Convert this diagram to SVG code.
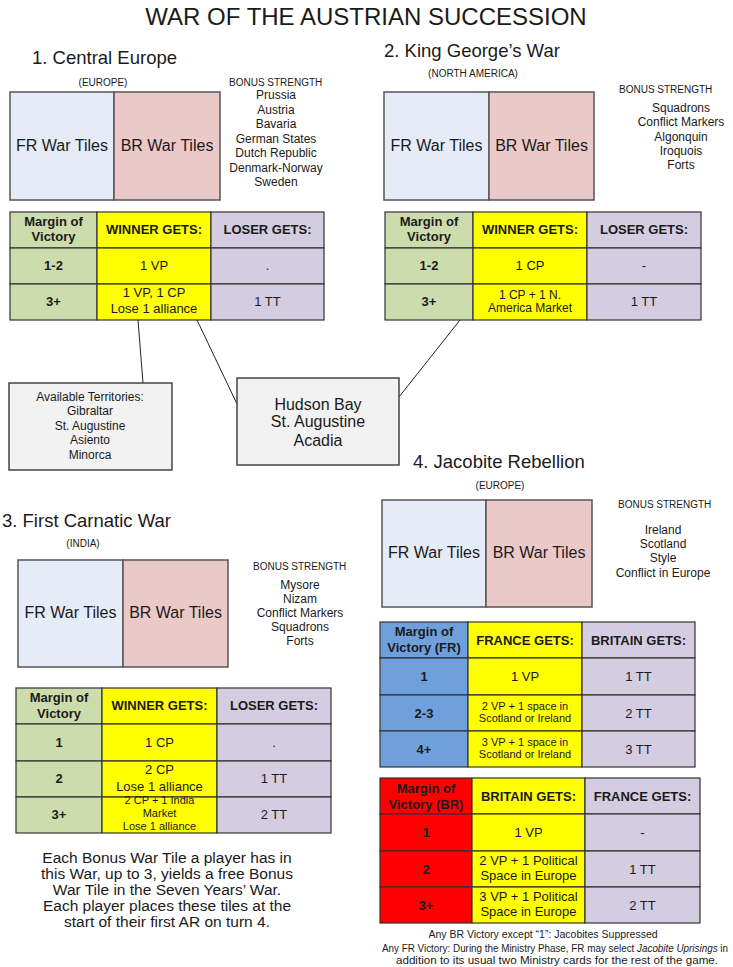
<svg xmlns="http://www.w3.org/2000/svg" width="733" height="967" viewBox="0 0 733 967">
<style>
text{font-family:"Liberation Sans",Arial,sans-serif;fill:#1a1a1a}
.t{font-size:24px}
.h{font-size:18.5px}
.sm{font-size:10px}
.bs{font-size:12px;text-anchor:middle}
.wt{font-size:16px;text-anchor:middle}
.nt{font-size:15.5px;text-anchor:middle}
.fn{font-size:10.5px;text-anchor:middle}
.fn2{font-size:10px;text-anchor:middle}
.c{text-anchor:middle}
.b13{font-size:13px;font-weight:bold;text-anchor:middle}
.r13{font-size:13px;text-anchor:middle}
.r12{font-size:12px;text-anchor:middle}
.r11{font-size:11px;text-anchor:middle}
.fr{fill:#e6ecf7;stroke:#555;stroke-width:1.5}
.br{fill:#ecc9c9;stroke:#555;stroke-width:1.5}
.g{fill:#cddcac;stroke:#333;stroke-width:1.2}
.y{fill:#ffff00;stroke:#333;stroke-width:1.2}
.l{fill:#d4cce1;stroke:#333;stroke-width:1.2}
.bl{fill:#6fa0dc;stroke:#333;stroke-width:1.2}
.rd{fill:#ff0000;stroke:#333;stroke-width:1.2}
.box{fill:#f2f2f2;stroke:#444;stroke-width:1.5}
.con line{stroke:#222;stroke-width:1}
</style>
<rect width="733" height="967" fill="#fff"/>
<text class="t c" x="366" y="25">WAR OF THE AUSTRIAN SUCCESSION</text>

<g id="sec1">
<text class="h" x="32" y="64">1. Central Europe</text>
<text class="sm c" x="103" y="86">(EUROPE)</text>
<rect class="fr" x="10" y="92" width="104" height="108"/>
<rect class="br" x="114" y="92" width="106" height="108"/>
<text class="wt" x="62" y="151">FR War Tiles</text>
<text class="wt" x="167" y="151">BR War Tiles</text>
<text class="sm" x="229" y="86">BONUS STRENGTH</text>
<text class="bs" x="276" y="99">Prussia</text>
<text class="bs" x="276" y="114">Austria</text>
<text class="bs" x="276" y="128">Bavaria</text>
<text class="bs" x="276" y="143">German States</text>
<text class="bs" x="276" y="157">Dutch Republic</text>
<text class="bs" x="276" y="172">Denmark-Norway</text>
<text class="bs" x="276" y="186">Sweden</text>
</g>
<g id="table1">
<rect class="g" x="10" y="212" width="87" height="36"/>
<rect class="y" x="97" y="212" width="114" height="36"/>
<rect class="l" x="211" y="212" width="113" height="36"/>
<rect class="g" x="10" y="248" width="87" height="36"/>
<rect class="y" x="97" y="248" width="114" height="36"/>
<rect class="l" x="211" y="248" width="113" height="36"/>
<rect class="g" x="10" y="284" width="87" height="36"/>
<rect class="y" x="97" y="284" width="114" height="36"/>
<rect class="l" x="211" y="284" width="113" height="36"/>
<text class="b13" x="53.5" y="226">Margin of</text>
<text class="b13" x="53.5" y="241">Victory</text>
<text class="b13" x="154" y="234">WINNER GETS:</text>
<text class="b13" x="267.5" y="234">LOSER GETS:</text>
<text class="b13" x="53.5" y="270">1-2</text>
<text class="r13" x="154" y="270">1 VP</text>
<text class="r13" x="267.5" y="270">.</text>
<text class="b13" x="53.5" y="306">3+</text>
<text class="r13" x="154" y="297">1 VP, 1 CP</text>
<text class="r13" x="154" y="313">Lose 1 alliance</text>
<text class="r13" x="267.5" y="306">1 TT</text>
</g>

<g id="sec2">
<text class="h" x="384" y="57">2. King George’s War</text>
<text class="sm c" x="473" y="77">(NORTH AMERICA)</text>
<rect class="fr" x="384" y="92" width="105" height="108"/>
<rect class="br" x="489" y="92" width="105" height="108"/>
<text class="wt" x="436.5" y="151">FR War Tiles</text>
<text class="wt" x="541.5" y="151">BR War Tiles</text>
<text class="sm" x="619" y="93">BONUS STRENGTH</text>
<text class="bs" x="681" y="112">Squadrons</text>
<text class="bs" x="681" y="126">Conflict Markers</text>
<text class="bs" x="681" y="141">Algonquin</text>
<text class="bs" x="681" y="155">Iroquois</text>
<text class="bs" x="681" y="169">Forts</text>
</g>
<g id="table2">
<rect class="g" x="385" y="212" width="88" height="36"/>
<rect class="y" x="473" y="212" width="114" height="36"/>
<rect class="l" x="587" y="212" width="114" height="36"/>
<rect class="g" x="385" y="248" width="88" height="36"/>
<rect class="y" x="473" y="248" width="114" height="36"/>
<rect class="l" x="587" y="248" width="114" height="36"/>
<rect class="g" x="385" y="284" width="88" height="36"/>
<rect class="y" x="473" y="284" width="114" height="36"/>
<rect class="l" x="587" y="284" width="114" height="36"/>
<text class="b13" x="429" y="226">Margin of</text>
<text class="b13" x="429" y="241">Victory</text>
<text class="b13" x="530" y="234">WINNER GETS:</text>
<text class="b13" x="644" y="234">LOSER GETS:</text>
<text class="b13" x="429" y="270">1-2</text>
<text class="r13" x="530" y="270">1 CP</text>
<text class="r13" x="644" y="270">-</text>
<text class="b13" x="429" y="306">3+</text>
<text class="r12" x="530" y="299">1 CP + 1 N.</text>
<text class="r12" x="530" y="312">America Market</text>
<text class="r13" x="644" y="306">1 TT</text>
</g>

<g class="con" id="connectors">
<line x1="138" y1="320" x2="143" y2="383"/>
<line x1="197" y1="320" x2="237" y2="404"/>
<line x1="460" y1="320" x2="399" y2="397"/>
</g>

<g id="territories">
<rect class="box" x="9" y="383" width="163" height="87"/>
<text class="bs" x="90" y="401">Available Territories:</text>
<text class="bs" x="90" y="415">Gibraltar</text>
<text class="bs" x="90" y="430">St. Augustine</text>
<text class="bs" x="90" y="444">Asiento</text>
<text class="bs" x="90" y="459">Minorca</text>
</g>
<g id="hudson">
<rect class="box" x="237" y="378" width="162" height="87"/>
<text class="wt" x="318" y="410">Hudson Bay</text>
<text class="wt" x="318" y="427">St. Augustine</text>
<text class="wt" x="318" y="446">Acadia</text>
</g>

<g id="sec3">
<text class="h" x="2" y="527">3. First Carnatic War</text>
<text class="sm c" x="83" y="547">(INDIA)</text>
<rect class="fr" x="18" y="560" width="105" height="107"/>
<rect class="br" x="123" y="560" width="105" height="107"/>
<text class="wt" x="70.5" y="618">FR War Tiles</text>
<text class="wt" x="175.5" y="618">BR War Tiles</text>
<text class="sm" x="253" y="570">BONUS STRENGTH</text>
<text class="bs" x="300" y="589">Mysore</text>
<text class="bs" x="300" y="603">Nizam</text>
<text class="bs" x="300" y="617">Conflict Markers</text>
<text class="bs" x="300" y="631">Squadrons</text>
<text class="bs" x="300" y="645">Forts</text>
</g>
<g id="table3">
<rect class="g" x="16" y="688" width="86" height="36"/>
<rect class="y" x="102" y="688" width="115" height="36"/>
<rect class="l" x="217" y="688" width="114" height="36"/>
<rect class="g" x="16" y="724" width="86" height="37"/>
<rect class="y" x="102" y="724" width="115" height="37"/>
<rect class="l" x="217" y="724" width="114" height="37"/>
<rect class="g" x="16" y="761" width="86" height="36"/>
<rect class="y" x="102" y="761" width="115" height="36"/>
<rect class="l" x="217" y="761" width="114" height="36"/>
<rect class="g" x="16" y="797" width="86" height="36"/>
<rect class="y" x="102" y="797" width="115" height="36"/>
<rect class="l" x="217" y="797" width="114" height="36"/>
<text class="b13" x="59" y="702">Margin of</text>
<text class="b13" x="59" y="718">Victory</text>
<text class="b13" x="159.5" y="710">WINNER GETS:</text>
<text class="b13" x="274" y="710">LOSER GETS:</text>
<text class="b13" x="59" y="747">1</text>
<text class="r13" x="159.5" y="747">1 CP</text>
<text class="r13" x="274" y="747">.</text>
<text class="b13" x="59" y="783">2</text>
<text class="r13" x="159.5" y="774">2 CP</text>
<text class="r13" x="159.5" y="791">Lose 1 alliance</text>
<text class="r13" x="274" y="783">1 TT</text>
<text class="b13" x="59" y="819">3+</text>
<text class="r11" x="159.5" y="804">2 CP + 1 India</text>
<text class="r11" x="159.5" y="817">Market</text>
<text class="r11" x="159.5" y="830">Lose 1 alliance</text>
<text class="r13" x="274" y="819">2 TT</text>
</g>
<g id="note">
<text class="nt" x="167" y="863">Each Bonus War Tile a player has in</text>
<text class="nt" x="167" y="879">this War, up to 3, yields a free Bonus</text>
<text class="nt" x="167" y="895">War Tile in the Seven Years’ War.</text>
<text class="nt" x="167" y="911">Each player places these tiles at the</text>
<text class="nt" x="167" y="927">start of their first AR on turn 4.</text>
</g>

<g id="sec4">
<text class="h" x="413" y="468">4. Jacobite Rebellion</text>
<text class="sm c" x="500" y="489">(EUROPE)</text>
<rect class="fr" x="382" y="500" width="104" height="107"/>
<rect class="br" x="486" y="500" width="106" height="107"/>
<text class="wt" x="434" y="558">FR War Tiles</text>
<text class="wt" x="539" y="558">BR War Tiles</text>
<text class="sm" x="618" y="508">BONUS STRENGTH</text>
<text class="bs" x="663" y="534">Ireland</text>
<text class="bs" x="663" y="548">Scotland</text>
<text class="bs" x="663" y="562">Style</text>
<text class="bs" x="663" y="577">Conflict in Europe</text>
</g>
<g id="table4a">
<rect class="bl" x="380" y="622" width="88" height="36"/>
<rect class="y" x="468" y="622" width="114" height="36"/>
<rect class="l" x="582" y="622" width="113" height="36"/>
<rect class="bl" x="380" y="658" width="88" height="37"/>
<rect class="y" x="468" y="658" width="114" height="37"/>
<rect class="l" x="582" y="658" width="113" height="37"/>
<rect class="bl" x="380" y="695" width="88" height="36"/>
<rect class="y" x="468" y="695" width="114" height="36"/>
<rect class="l" x="582" y="695" width="113" height="36"/>
<rect class="bl" x="380" y="731" width="88" height="36"/>
<rect class="y" x="468" y="731" width="114" height="36"/>
<rect class="l" x="582" y="731" width="113" height="36"/>
<text class="b13" x="424" y="636">Margin of</text>
<text class="b13" x="424" y="652">Victory (FR)</text>
<text class="b13" x="525" y="645">FRANCE GETS:</text>
<text class="b13" x="638.5" y="645">BRITAIN GETS:</text>
<text class="b13" x="424" y="681">1</text>
<text class="r13" x="525" y="681">1 VP</text>
<text class="r13" x="638.5" y="681">1 TT</text>
<text class="b13" x="424" y="718">2-3</text>
<text class="r11" x="525" y="710">2 VP + 1 space in</text>
<text class="r11" x="525" y="722">Scotland or Ireland</text>
<text class="r13" x="638.5" y="718">2 TT</text>
<text class="b13" x="424" y="754">4+</text>
<text class="r11" x="525" y="746">3 VP + 1 space in</text>
<text class="r11" x="525" y="758">Scotland or Ireland</text>
<text class="r13" x="638.5" y="754">3 TT</text>
</g>
<g id="table4b">
<rect class="rd" x="380" y="778" width="92" height="36"/>
<rect class="y" x="472" y="778" width="113" height="36"/>
<rect class="l" x="585" y="778" width="115" height="36"/>
<rect class="rd" x="380" y="814" width="92" height="37"/>
<rect class="y" x="472" y="814" width="113" height="37"/>
<rect class="l" x="585" y="814" width="115" height="37"/>
<rect class="rd" x="380" y="851" width="92" height="36"/>
<rect class="y" x="472" y="851" width="113" height="36"/>
<rect class="l" x="585" y="851" width="115" height="36"/>
<rect class="rd" x="380" y="887" width="92" height="36"/>
<rect class="y" x="472" y="887" width="113" height="36"/>
<rect class="l" x="585" y="887" width="115" height="36"/>
<text class="b13" x="426" y="793">Margin of</text>
<text class="b13" x="426" y="809">Victory (BR)</text>
<text class="b13" x="528.5" y="801">BRITAIN GETS:</text>
<text class="b13" x="642.5" y="801">FRANCE GETS:</text>
<text class="b13" x="426" y="837">1</text>
<text class="r13" x="528.5" y="837">1 VP</text>
<text class="r13" x="642.5" y="837">-</text>
<text class="b13" x="426" y="874">2</text>
<text class="r13" x="528.5" y="865">2 VP + 1 Political</text>
<text class="r13" x="528.5" y="880">Space in Europe</text>
<text class="r13" x="642.5" y="874">1 TT</text>
<text class="b13" x="426" y="910">3+</text>
<text class="r13" x="528.5" y="901">3 VP + 1 Political</text>
<text class="r13" x="528.5" y="916">Space in Europe</text>
<text class="r13" x="642.5" y="910">2 TT</text>
</g>
<g id="footnote">
<text class="fn" x="543" y="938">Any BR Victory except “1”: Jacobites Suppressed</text>
<text class="fn2" x="555" y="951.5" textLength="346" lengthAdjust="spacingAndGlyphs">Any FR Victory: During the Ministry Phase, FR may select <tspan font-style="italic">Jacobite Uprisings</tspan> in</text>
<text class="fn2" x="557" y="964" textLength="322" lengthAdjust="spacingAndGlyphs">addition to its usual two Ministry cards for the rest of the game.</text>
</g>
</svg>
